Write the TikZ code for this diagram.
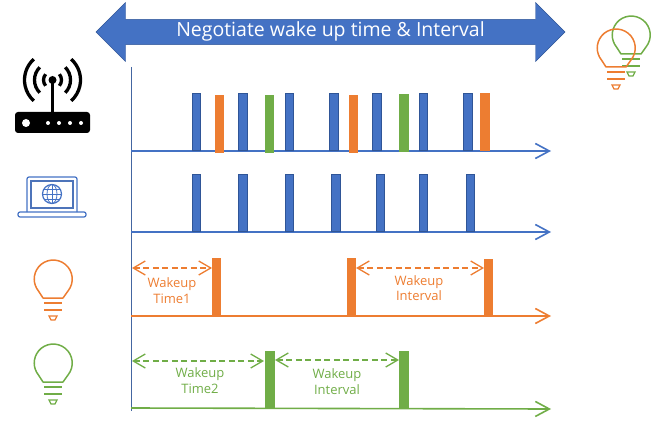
\documentclass[tikz,border=0pt]{standalone}
\usepackage{fontspec}
\setmainfont{Open Sans}
\usetikzlibrary{arrows.meta,shapes.arrows}
\definecolor{wifiblue}{HTML}{4472C4}
\definecolor{wifidark}{HTML}{2F5597}
\definecolor{bulborange}{HTML}{ED7D31}
\definecolor{bulbgreen}{HTML}{70AD47}
\tikzset{
    barblue/.style={draw=wifidark, line width=1.2pt, fill=wifiblue, inner sep=0pt, minimum width=8.5pt, minimum height=57pt},
    barorange/.style={fill=bulborange, inner sep=0pt, minimum width=9pt, minimum height=58pt},
    bargreen/.style={fill=bulbgreen, inner sep=0pt, minimum width=10pt, minimum height=58pt},
    timeline/.style={-{Straight Barb[length=14pt,width=15pt]}, line width=1.6pt},
    wakespan/.style={{Straight Barb[length=12pt,width=14pt]}-{Straight Barb[length=12pt,width=14pt]}, dash pattern=on 6pt off 3.5pt, line width=1.3pt},
    wakelabel/.style={align=center, inner sep=0pt, font=\fontsize{13}{15.5}\selectfont},
    bulb/.pic={
        \draw[line width=1.5pt, line join=round] (15,12) arc[start angle=-39, end angle=219, radius=19pt]
            -- (-10,19) -- (10,19) -- cycle;
        \draw[line width=1.5pt] (-9,24) -- (9,24) (-9,31) -- (9,31);
        \draw[line width=1.3pt] (-4,37) -- (4,37) -- (2,41) -- (-2,41) -- cycle;
    }
}
\begin{document}
\begin{tikzpicture}[x=1pt,y=-1pt]
\useasboundingbox (0,0) rectangle (668,422);
% negotiate arrow
\node[double arrow, double arrow head extend=15pt, double arrow tip angle=90,
    minimum height=469pt, minimum width=59pt, inner sep=0pt, text height=16pt, text depth=6pt,
    draw=wifidark, fill=wifiblue, text=white, font=\fontsize{19.5}{22}\selectfont] (negotiate) at (330.5,32)
    {Negotiate wake up time \& Interval};
% axes
\coordinate (origin) at (131,67);
\coordinate (bottom) at (131,411);
\draw[wifidark!90, line width=1pt] (origin) -- (bottom);
\coordinate (line1a) at (131,151);
\coordinate (line1b) at (551,151);
\coordinate (line2a) at (131,232);
\coordinate (line2b) at (551,232);
\coordinate (line3a) at (131,316);
\coordinate (line3b) at (551,316);
\coordinate (line4a) at (131,408);
\coordinate (line4b) at (551,409);
\draw[timeline, wifiblue] (line1a) -- (line1b);
\draw[timeline, wifiblue] (line2a) -- (line2b);
\draw[timeline, bulborange] (line3a) -- (line3b);
\draw[timeline, bulbgreen] (line4a) -- (line4b);
% router row
\foreach \x in {196.5,243,289.5,334,377,423.5,468}
    \node[barblue] (ap\x) at (\x,122) {};
\foreach \x in {219.5,353.5}
    \node[barorange] (apo\x) at (\x,124) {};
\node[barorange, minimum width=10pt] (apo3) at (485,122.5) {};
\node[bargreen, minimum width=9pt] (apg1) at (269.5,124) {};
\node[bargreen] (apg2) at (404,123) {};
% laptop row
\foreach \x in {196.5,243,289.5,336,380.5,423.5,470.5}
    \node[barblue] (sta\x) at (\x,203) {};
% orange row
\node[barorange] (oa) at (216.5,287) {};
\node[barorange] (ob) at (351,287) {};
\node[barorange] (oc) at (488.5,287.5) {};
\coordinate (oa1) at (132,268);
\coordinate (oa2) at (212,268);
\coordinate (ob1) at (356,268);
\coordinate (ob2) at (484,268);
\draw[wakespan, bulborange] (oa1) -- (oa2);
\draw[wakespan, bulborange] (ob1) -- (ob2);
\node[wakelabel, text=bulborange] (otime) at (172,290.5) {Wakeup\\Time1};
\node[wakelabel, text=bulborange] (oint) at (419,288) {Wakeup\\Interval};
% green row
\node[bargreen] (ga) at (270,380) {};
\node[bargreen] (gb) at (404,380) {};
\coordinate (ga1) at (132,361);
\coordinate (ga2) at (264,361);
\coordinate (gb1) at (275,360);
\coordinate (gb2) at (399,360);
\draw[wakespan, bulbgreen] (ga1) -- (ga2);
\draw[wakespan, bulbgreen] (gb1) -- (gb2);
\node[wakelabel, text=bulbgreen] (gtime) at (200,380.5) {Wakeup\\Time2};
\node[wakelabel, text=bulbgreen] (gint) at (337,381.5) {Wakeup\\Interval};
% bulbs
\pic[bulborange] at (53,279) {bulb};
\pic[bulbgreen] at (53,363) {bulb};
\pic[bulbgreen] at (631,35) {bulb};
\pic[bulborange] at (616,48) {bulb};
% router icon
\fill[black, rounded corners=3pt] (15,112) rectangle (90,133);
\fill[white] (26,123) circle[radius=4pt];
\foreach \x in {48,59,70,81}
    \fill[white] (\x,123) circle[radius=2pt];
\draw[black, line width=3pt] (52.5,80) -- (52.5,112);
\fill[black] (52.5,80) circle[radius=4pt];
\foreach \r/\a in {9/40,18/45,28/48} {
    \draw[black, line width=3.3pt] (52.5,80) ++(\a:\r pt) arc[start angle=\a, end angle=-\a, radius=\r pt];
    \draw[black, line width=3.3pt] (52.5,80) ++(180-\a:\r pt) arc[start angle=180-\a, end angle=180+\a, radius=\r pt];
}
% laptop icon
\draw[wifiblue, line width=1.2pt, rounded corners=2pt] (27,212) -- (27,177) -- (77,177) -- (77,212);
\draw[wifiblue!85!gray, line width=1.2pt] (31,181) rectangle (73,208);
\draw[wifiblue, line width=1.2pt, rounded corners=2pt] (18,212) rectangle (86,217);
\draw[wifiblue, line width=1.2pt] (52,194) circle[radius=9.5pt];
\draw[wifiblue, line width=.8pt] (52,184.5) -- (52,203.5) (42.5,194) -- (61.5,194)
    (44,189) -- (60,189) (44,199) -- (60,199);
\draw[wifiblue, line width=.8pt] (52,194) ellipse[x radius=5pt, y radius=9.5pt];
\end{tikzpicture}
\end{document}
